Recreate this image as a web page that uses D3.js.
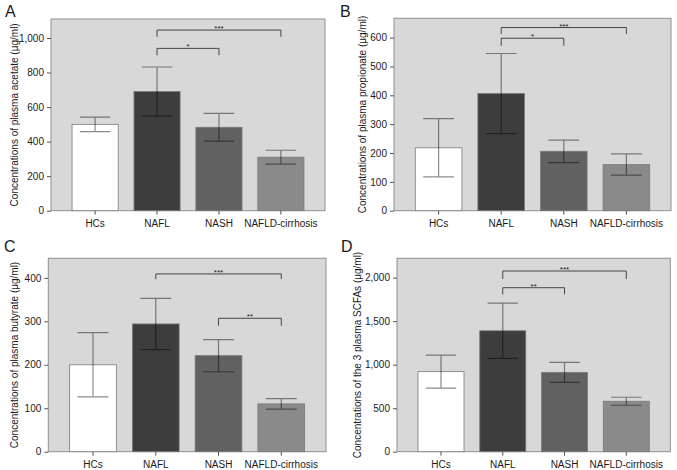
<!DOCTYPE html>
<html>
<head>
<meta charset="UTF-8">
<title>Plasma SCFAs</title>
<script src="https://cdn.jsdelivr.net/npm/d3@7/dist/d3.min.js"></script>
<style>
  body { margin: 0; background: #fff; }
  text { font-family: "Liberation Sans", Arial, Helvetica, sans-serif; fill: #1a1a1a; }
</style>
</head>
<body>
<script>
// groups on the x axis
var categories = ["HCs", "NAFL", "NASH", "NAFLD-cirrhosis"];

// means and error half-widths
var acetateMean = [500, 690, 483, 310];
var acetateErr = [42, 142, 80, 40];
var propionateMean = [218, 406, 206, 160];
var propionateErr = [101, 139, 39, 37];
var butyrateMean = [200, 294, 221, 110];
var butyrateErr = [74, 59, 37, 12];
var totalMean = [920, 1390, 912, 580];
var totalErr = [190, 317, 115, 46];

// y tick values per panel
var acetateTicks = [0, 200, 400, 600, 800, 1000];
var propionateTicks = [0, 100, 200, 300, 400, 500, 600];
var butyrateTicks = [0, 100, 200, 300, 400];
var totalTicks = [0, 500, 1000, 1500, 2000];

// significance brackets: groups joined, bracket height, leg end, label
var acetateSig = [[1, 3, 1046, 1007, "***"], [1, 2, 940, 900, "*"]];
var propionateSig = [[1, 3, 635, 613, "***"], [1, 2, 598, 572, "*"]];
var butyrateSig = [[1, 3, 409, 397, "***"], [2, 3, 307, 290, "**"]];
var totalSig = [[1, 3, 2077, 1985, "***"], [1, 2, 1885, 1808, "**"]];

var barColors = ["#ffffff", "#3d3d3d", "#616161", "#8a8a8a"];

var svg = d3.select("body").append("svg")
    .attr("width", 677)
    .attr("height", 470);

function drawPanel(p) {
  var x = d3.scaleBand()
      .domain(categories)
      .range([p.left, p.right])
      .paddingInner(0.255)
      .paddingOuter(0.34);

  var y = d3.scaleLinear()
      .domain([0, p.ymax])
      .range([p.bottom, p.top]);

  var g = svg.append("g");

  // grey plot area
  g.append("rect")
      .attr("x", p.left).attr("y", p.top)
      .attr("width", p.right - p.left)
      .attr("height", p.bottom - p.top)
      .attr("fill", "#d8d8d8")
      .attr("stroke", "#8f8f8f")
      .attr("stroke-width", 1);

  // bars
  g.selectAll(".bar").data(p.mean).enter().append("rect")
      .attr("x", function(d, i) { return x(categories[i]); })
      .attr("y", function(d) { return y(d); })
      .attr("width", x.bandwidth())
      .attr("height", function(d) { return y(0) - y(d); })
      .attr("fill", function(d, i) { return barColors[i]; })
      .attr("stroke", "#7a7a7a")
      .attr("stroke-width", 0.8);

  // error bars
  var cap = x.bandwidth() * 0.33;
  var eb = g.selectAll(".err").data(p.mean).enter().append("g")
      .attr("stroke", "rgba(0,0,0,0.45)")
      .attr("stroke-width", 1.2)
      .attr("fill", "none");
  eb.append("path")
      .attr("d", function(d, i) {
        var cx = x(categories[i]) + x.bandwidth() / 2;
        var hi = y(d + p.err[i]), lo = y(d - p.err[i]);
        return "M" + cx + "," + hi + "V" + lo +
               "M" + (cx - cap) + "," + hi + "H" + (cx + cap) +
               "M" + (cx - cap) + "," + lo + "H" + (cx + cap);
      });

  // significance brackets
  p.sig.forEach(function(s) {
    var x1 = x(categories[s[0]]) + x.bandwidth() / 2;
    var x2 = x(categories[s[1]]) + x.bandwidth() / 2;
    g.append("path")
        .attr("d", "M" + x1 + "," + y(s[3]) + "V" + y(s[2]) + "H" + x2 + "V" + y(s[3]))
        .attr("fill", "none")
        .attr("stroke", "#444")
        .attr("stroke-width", 1);
    g.append("text")
        .attr("x", (x1 + x2) / 2)
        .attr("y", y(s[2]) + 1)
        .attr("text-anchor", "middle")
        .style("font-size", "8px")
        .text(s[4]);
  });

  // axes
  var yAxis = d3.axisLeft(y).tickValues(p.ticks).tickSize(4).tickPadding(3)
      .tickFormat(d3.format(","));
  var ya = g.append("g")
      .attr("transform", "translate(" + p.left + ",0)")
      .call(yAxis);
  ya.select(".domain").remove();
  ya.selectAll("line").attr("stroke", "#555");
  ya.selectAll("text").style("font-size", "10px").attr("fill", "#1a1a1a");

  var xAxis = d3.axisBottom(x).tickSize(4).tickPadding(5);
  var xa = g.append("g")
      .attr("transform", "translate(0," + p.bottom + ")")
      .call(xAxis);
  xa.select(".domain").remove();
  xa.selectAll("line").attr("stroke", "#555");
  xa.selectAll("text").style("font-size", "10px").attr("fill", "#1a1a1a");

  // y axis title
  g.append("text")
      .attr("transform", "translate(" + p.titleX + "," + (p.top + p.bottom) / 2 + ") rotate(-90)")
      .attr("text-anchor", "middle")
      .attr("dy", "0.35em")
      .style("font-size", "10px")
      .text(p.title);

  // panel letter
  g.append("text")
      .attr("x", p.letterX)
      .attr("y", p.letterY)
      .style("font-size", "16px")
      .text(p.letter);
}

drawPanel({ letter: "A", letterX: 5, letterY: 17,
  left: 51, right: 325, top: 19, bottom: 210.7, ymax: 1110, titleX: 14,
  mean: acetateMean, err: acetateErr, ticks: acetateTicks, sig: acetateSig,
  title: "Concentrations of plasma acetate (\u03bcg/ml)" });

drawPanel({ letter: "B", letterX: 340, letterY: 17,
  left: 394, right: 671, top: 18.3, bottom: 210.7, ymax: 667, titleX: 362,
  mean: propionateMean, err: propionateErr, ticks: propionateTicks, sig: propionateSig,
  title: "Concentrations of plasma propionate (\u03bcg/ml)" });

drawPanel({ letter: "C", letterX: 4, letterY: 252,
  left: 48.3, right: 326, top: 258.3, bottom: 451.7, ymax: 445, titleX: 14,
  mean: butyrateMean, err: butyrateErr, ticks: butyrateTicks, sig: butyrateSig,
  title: "Concentrations of plasma butyrate (\u03bcg/ml)" });

drawPanel({ letter: "D", letterX: 341, letterY: 252,
  left: 397, right: 670.3, top: 258.3, bottom: 451.7, ymax: 2223, titleX: 357,
  mean: totalMean, err: totalErr, ticks: totalTicks, sig: totalSig,
  title: "Concentrations of the 3 plasma SCFAs (\u03bcg/ml)" });
</script>
</body>
</html>
